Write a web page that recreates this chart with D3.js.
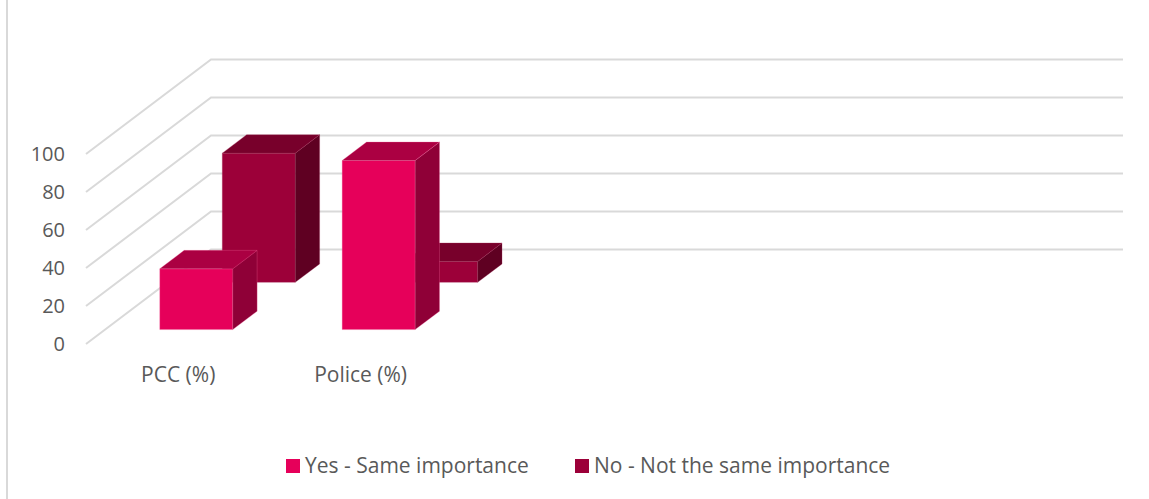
<!DOCTYPE html>
<html>
<head>
<meta charset="utf-8">
<script src="https://cdn.jsdelivr.net/npm/d3@7"></script>
<style>
html,body{margin:0;padding:0;background:#fff;overflow:hidden}
text{font-family:"Open Sans","Noto Sans",sans-serif;fill:#595959}
</style>
</head>
<body>
<svg id="c" width="1149" height="499"></svg>
<script>
const categories = ["PCC (%)", "Police (%)", " ", "  ", "   "];
const seriesNames = ["Yes - Same importance", "No - Not the same importance"];
const yesValues = [32, 89, null, null, null];
const noValues = [68, 11, null, null, null];
const yTicks = [0, 20, 40, 60, 80, 100];
const seriesColors = [
  {front:"#e6005a", top:"#ab0042", side:"#8f0037", edge:"#f0609a"},
  {front:"#9c0039", top:"#78002b", side:"#5f0022", edge:"#a8305c"}
];
const svg = d3.select("#c");
const depthDx = 125, depthDy = -94.5;
const x = d3.scaleBand().domain(categories).range([86, 998]).paddingInner(0.6).paddingOuter(0.3);
const y = d3.scaleLinear().domain([0, 100]).range([344, 154]);
const depth = d3.scaleBand().domain(seriesNames).range([0, 1]).paddingInner(0.61).paddingOuter(0.305);
const project = (px, v, d) => [px + d * depthDx, y(v) + d * depthDy];
const poly = pts => "M" + pts.map(p => p.join(",")).join("L") + "Z";

// left frame edge
svg.append("line").attr("x1",7).attr("x2",7).attr("y1",0).attr("y2",499)
  .attr("stroke","#d9d9d9").attr("stroke-width",2);

// floor-to-back gridlines
const grid = svg.append("g").attr("fill","none").attr("stroke","#d9d9d9").attr("stroke-width",2);
yTicks.forEach(t => {
  const a = project(x.range()[0], t, 0), b = project(x.range()[0], t, 1), c = project(x.range()[1], t, 1);
  grid.append("path").attr("d", d3.line()([a, b, c]));
});

// value axis labels
svg.append("g").selectAll("text").data(yTicks).join("text")
  .attr("x", 65).attr("y", d => y(d)).attr("dy", "0.36em")
  .attr("text-anchor", "end").attr("font-size", 20).text(d => d);

// category labels
svg.append("g").selectAll("text").data(categories.slice(0, 2)).join("text")
  .attr("x", d => x(d) + x.bandwidth()/2 + 1).attr("y", 382)
  .attr("text-anchor", "middle").attr("font-size", 21).text(d => d);

// bars, back series first
function bar(g, cat, value, name, col) {
  if (value == null) return;
  const x0 = x(cat), x1 = x0 + x.bandwidth();
  const d0 = depth(name), d1 = d0 + depth.bandwidth();
  const face = (fill, pts) => g.append("path").attr("fill", fill).attr("d", poly(pts))
    .attr("stroke", col.edge).attr("stroke-width", 0.5).attr("stroke-opacity", 0.6);
  face(col.front, [project(x0,0,d0),project(x1,0,d0),project(x1,value,d0),project(x0,value,d0)]);
  face(col.side, [project(x1,0,d0),project(x1,0,d1),project(x1,value,d1),project(x1,value,d0)]);
  face(col.top, [project(x0,value,d0),project(x1,value,d0),project(x1,value,d1),project(x0,value,d1)]);
}
const bars = svg.append("g");
categories.forEach((c,i) => bar(bars, c, noValues[i], seriesNames[1], seriesColors[1]));
categories.forEach((c,i) => bar(bars, c, yesValues[i], seriesNames[0], seriesColors[0]));

// legend
const legendX = [286, 575];
const legend = svg.append("g");
seriesNames.forEach((n,i) => {
  legend.append("rect").attr("x", legendX[i]).attr("y", 459).attr("width", 14).attr("height", 14).attr("fill", seriesColors[i].front);
  legend.append("text").attr("x", legendX[i] + 19).attr("y", 473).attr("font-size", 21).text(n);
});
</script>
</body>
</html>
